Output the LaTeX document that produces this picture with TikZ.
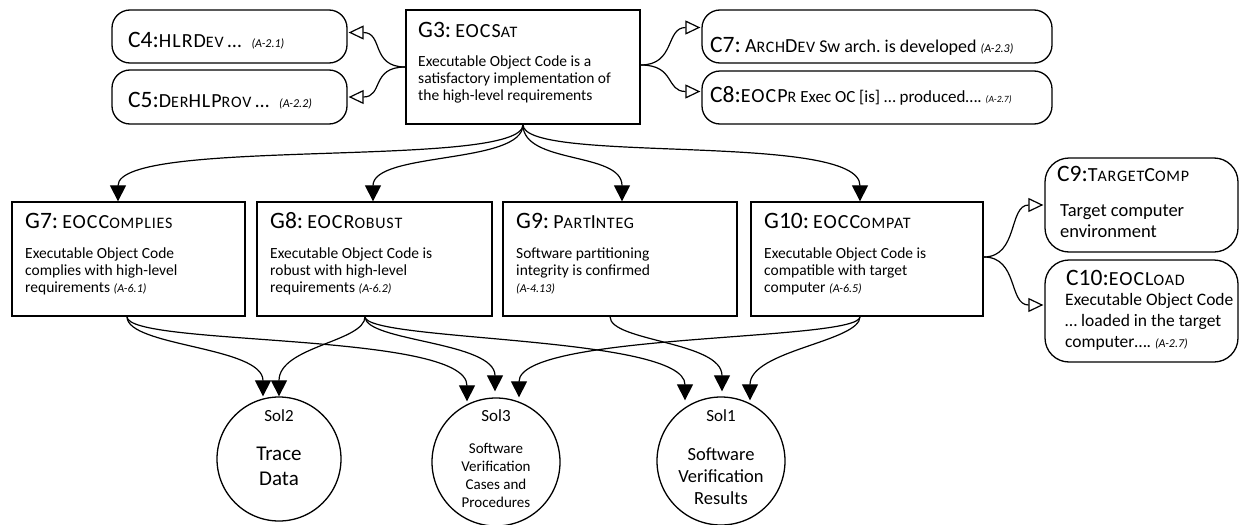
\documentclass[tikz,border=0pt]{standalone}
\usepackage{fontspec}
\setmainfont{Carlito}
\usetikzlibrary{arrows.meta,calc}
\frenchspacing
\newcommand\Pf[1]{{\fontsize{23.5}{24}\selectfont #1}}
\newcommand\Up[1]{{\fontsize{20}{20}\selectfont\addfontfeature{LetterSpace=5}#1}}
\newcommand\Lo[1]{{\fontsize{16}{16}\selectfont\addfontfeature{LetterSpace=5}#1}}
\newcommand\Rf[1]{{\fontsize{12}{13}\selectfont\itshape #1}}
\begin{document}
\begin{tikzpicture}[x=1pt,y=-1pt,
  box/.style={draw,line width=1.3pt,inner sep=0pt},
  ctx/.style={draw,line width=1.3pt,rounded corners=18pt,inner sep=0pt},
  sol/.style={draw,circle,line width=1.3pt,inner sep=0pt,minimum size=124pt},
  ttl/.style={anchor=base west,inner sep=0pt,font=\fontsize{18}{20}\selectfont},
  body/.style={anchor=north west,inner sep=0pt,align=left,font=\fontsize{15.5}{17}\selectfont},
  link/.style={line width=1.2pt,-{Triangle[length=16pt,width=16pt]}},
  ctxlink/.style={line width=1.2pt,-{Triangle[open,length=15pt,width=14pt,fill=white]}},
]
\useasboundingbox (0,0) rectangle (1243,525);

% top row
\node[box,minimum width=234pt,minimum height=114pt] (g3) at (523,67) {};
\node[ttl] (g3t) at (418,37) {\Pf{G3:} \Up{EOCS}\Lo{AT}};
\node[body] (g3b) at (418,56) {Executable Object Code is a\\satisfactory implementation of\\the high-level requirements};

\node[ctx,minimum width=235pt,minimum height=53pt] (c4) at (229.5,36.5) {};
\node[ttl] (c4t) at (128,47) {\Pf{C4:}\Up{HLRD}\Lo{EV} \Up{…}\hspace{10pt}\Rf{(A-2.1)}};
\node[ctx,minimum width=235pt,minimum height=54pt] (c5) at (229.5,97) {};
\node[ttl] (c5t) at (128,107) {\Pf{C5:}\Up{D}\Lo{ER}\Up{HLP}\Lo{ROV} \Up{…}\hspace{10pt}\Rf{(A-2.2)}};

\node[ctx,minimum width=350pt,minimum height=53pt] (c7) at (877,36.5) {};
\node[ttl] (c7t) at (710,52) {\Pf{C7:} \Up{A}\Lo{RCH}\Up{D}\Lo{EV} {\fontsize{18}{20}\selectfont Sw arch. is developed} \Rf{(A-2.3)}};
\node[ctx,minimum width=350pt,minimum height=53pt] (c8) at (877,97.5) {};
\node[ttl] (c8t) at (710,102) {\Pf{C8:}\Up{EOCP}\Lo{R} {\fontsize{17}{20}\selectfont Exec OC [is] … produced….} {\fontsize{9.5}{11}\selectfont\itshape (A-2.7)}};

% middle row
\node[box,minimum width=233pt,minimum height=114pt] (g7) at (128.5,259) {};
\node[ttl] (g7t) at (25,228) {\Pf{G7:} \Up{EOCC}\Lo{OMPLIES}};
\node[body] (g7b) at (25,248) {Executable Object Code\\complies with high-level\\requirements \Rf{(A-6.1)}};

\node[box,minimum width=235pt,minimum height=114pt] (g8) at (374.5,259) {};
\node[ttl] (g8t) at (270,228) {\Pf{G8:} \Up{EOCR}\Lo{OBUST}};
\node[body] (g8b) at (270,248) {Executable Object Code is\\robust with high-level\\requirements \Rf{(A-6.2)}};

\node[box,minimum width=234pt,minimum height=114pt] (g9) at (620,259) {};
\node[ttl] (g9t) at (516,228) {\Pf{G9:} \Up{P}\Lo{ART}\Up{I}\Lo{NTEG}};
\node[body] (g9b) at (516,248) {Software partitioning\\integrity is confirmed\\\Rf{(A-4.13)}};

\node[box,minimum width=232pt,minimum height=114pt] (g10) at (867,259) {};
\node[ttl] (g10t) at (764,228) {\Pf{G10:} \Up{EOCC}\Lo{OMPAT}};
\node[body] (g10b) at (764,248) {Executable Object Code is\\compatible with target\\computer \Rf{(A-6.5)}};

\node[ctx,rounded corners=24pt,minimum width=193pt,minimum height=94pt] (c9) at (1141.5,205) {};
\node[ttl] (c9t) at (1057,181) {\Pf{C9:}\Up{T}\Lo{ARGET}\Up{C}\Lo{OMP}};
\node[body,font=\fontsize{18.5}{21}\selectfont] (c9b) at (1060,204) {Target computer\\environment};

\node[ctx,rounded corners=24pt,minimum width=193pt,minimum height=102pt] (c10) at (1141.5,311) {};
\node[ttl] (c10t) at (1066,285) {\Pf{C10:}\Up{EOCL}\Lo{OAD}};
\node[body,font=\fontsize{17.5}{21}\selectfont] (c10b) at (1065,293) {Executable Object Code\\… loaded in the target\\computer…. \Rf{(A-2.7)}};

% solutions
\node[sol,minimum size=124pt] (sol2) at (279,459) {};
\node[anchor=base,inner sep=0pt,font=\fontsize{17}{20}\selectfont] (sol2l) at (279,421) {Sol2};
\node[align=center,inner sep=0pt,font=\fontsize{21}{25}\selectfont] (sol2b) at (279,466) {Trace\\Data};

\node[sol,minimum size=128pt] (sol3) at (496,462) {};
\node[anchor=base,inner sep=0pt,font=\fontsize{17}{20}\selectfont] (sol3l) at (496,421) {Sol3};
\node[align=center,inner sep=0pt,font=\fontsize{15}{18}\selectfont] (sol3b) at (496,475) {Software\\Verification\\Cases and\\Procedures};

\node[sol,minimum size=128pt] (sol1) at (721,461) {};
\node[anchor=base,inner sep=0pt,font=\fontsize{17}{20}\selectfont] (sol1l) at (721,421) {Sol1};
\node[align=center,inner sep=0pt,font=\fontsize{18.5}{22}\selectfont] (sol1b) at (721,476) {Software\\Verification\\Results};

% context links
\coordinate (g3w) at ($(g3.west)+(0,0)$);
\coordinate (g3e) at ($(g3.east)+(0,-2)$);
\draw[ctxlink] (g3w) .. controls +(-35,0) and +(35,0) .. ($(c4.east)+(1,-4)$);
\draw[ctxlink] (g3w) .. controls +(-35,0) and +(35,0) .. ($(c5.east)+(1,0)$);
\draw[ctxlink] (g3e) .. controls +(35,0) and +(-35,0) .. ($(c7.west)+(-1,-9)$);
\draw[ctxlink] (g3e) .. controls +(35,0) and +(-35,0) .. ($(c8.west)+(-1,-6)$);
\coordinate (g10e) at ($(g10.east)+(0,-2)$);
\draw[ctxlink] (g10e) .. controls +(35,0) and +(-35,0) .. ($(c9.west)+(-1,0)$);
\draw[ctxlink] (g10e) .. controls +(35,0) and +(-35,0) .. ($(c10.west)+(-1,-6)$);

% support links
\draw[link] (g3.south) .. controls +(0,45) and +(0,-65) .. ($(g7.north)+(-10.5,0)$);
\draw[link] (g3.south) .. controls +(0,40) and +(0,-50) .. ($(g8.north)+(-1.5,0)$);
\draw[link] (g3.south) .. controls +(0,40) and +(0,-50) .. ($(g9.north)+(2,0)$);
\draw[link] (g3.south) .. controls +(0,40) and +(0,-70) .. ($(g10.north)+(-7,0)$);

\coordinate (g7s) at ($(g7.south)+(-1.5,0)$);
\coordinate (g8s) at ($(g8.south)+(-9.5,0)$);
\coordinate (g9s) at ($(g9.south)+(-10,0)$);
\coordinate (g10s) at ($(g10.south)+(-7,0)$);
\draw[link] (g7s) .. controls +(0,30) and +(0,-50) .. ($(sol2.north)+(-16,0)$);
\draw[link] (g7s) .. controls +(0,30) and +(0,-70) .. ($(sol3.north)+(-29,4)$);
\draw[link] (g8s) .. controls +(0,25) and +(0,-50) .. ($(sol2.north)+(0,0)$);
\draw[link] (g8s) .. controls +(0,25) and +(0,-50) .. ($(sol3.north)+(-1,-6)$);
\draw[link] (g8s) .. controls +(0,25) and +(0,-65) .. ($(sol1.north)+(-36,4)$);
\draw[link] (g9s) .. controls +(0,25) and +(0,-50) .. ($(sol1.north)+(1,-5)$);
\draw[link] (g10s) .. controls +(0,25) and +(0,-65) .. ($(sol3.north)+(23,0)$);
\draw[link] (g10s) .. controls +(0,25) and +(0,-50) .. ($(sol1.north)+(29,4)$);
\end{tikzpicture}
\end{document}
